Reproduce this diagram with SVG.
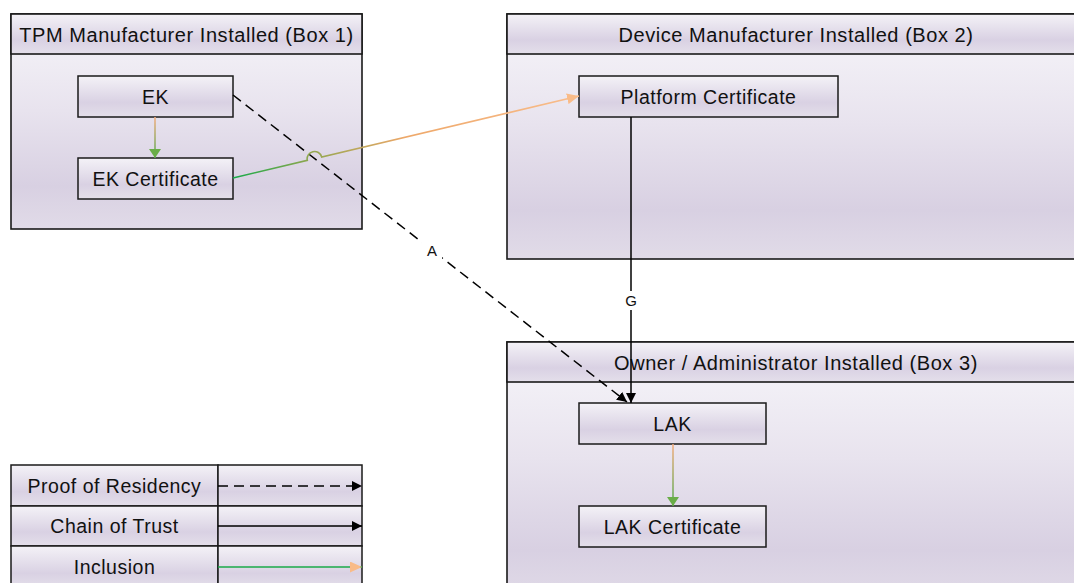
<svg xmlns="http://www.w3.org/2000/svg" width="1074" height="583" viewBox="0 0 1074 583">
  <defs>
    <linearGradient id="fillV" x1="0" y1="0" x2="0" y2="1">
      <stop offset="0" stop-color="#f7f6fa"/>
      <stop offset="0.45" stop-color="#e8e3ee"/>
      <stop offset="0.8" stop-color="#d8d0e2"/>
      <stop offset="1" stop-color="#e1dbe8"/>
    </linearGradient>
    <linearGradient id="nodeV" x1="0" y1="0" x2="0" y2="1">
      <stop offset="0" stop-color="#f4f2f7"/>
      <stop offset="0.65" stop-color="#d9d1e3"/>
      <stop offset="1" stop-color="#e4dfea"/>
    </linearGradient>
    <!-- inclusion connector: green at the source, orange at the target -->
    <linearGradient id="inclMain" gradientUnits="userSpaceOnUse" x1="233" y1="178" x2="579" y2="96">
      <stop offset="0" stop-color="#16aa48"/>
      <stop offset="0.22" stop-color="#8ea74f"/>
      <stop offset="0.5" stop-color="#eea86a"/>
      <stop offset="1" stop-color="#f9bd8c"/>
    </linearGradient>
    <linearGradient id="inclEK" gradientUnits="userSpaceOnUse" x1="0" y1="117" x2="0" y2="158">
      <stop offset="0" stop-color="#f5ab7c"/>
      <stop offset="1" stop-color="#4faa4a"/>
    </linearGradient>
    <linearGradient id="inclLAK" gradientUnits="userSpaceOnUse" x1="0" y1="444" x2="0" y2="506">
      <stop offset="0" stop-color="#f5ab7c"/>
      <stop offset="1" stop-color="#4faa4a"/>
    </linearGradient>
    <marker id="arrowBlack" markerUnits="userSpaceOnUse" markerWidth="10" markerHeight="10" refX="10" refY="5" orient="auto">
      <path d="M0,0 L10,5 L0,10 z" fill="#000"/>
    </marker>
    <marker id="arrowOrange" markerUnits="userSpaceOnUse" markerWidth="12" markerHeight="11" refX="12" refY="5.5" orient="auto">
      <path d="M0,0 L12,5.5 L0,11 z" fill="#f9bb88"/>
    </marker>
    <marker id="arrowGreen" markerUnits="userSpaceOnUse" markerWidth="11" markerHeight="12" refX="9" refY="6" orient="auto">
      <path d="M0,0 L9,6 L0,12 z" fill="#6aad48"/>
    </marker>
    <style>
      .box { fill: url(#fillV); stroke: #1a1a1a; stroke-width: 1.6; }
      .hdr { fill: url(#nodeV); stroke: #1a1a1a; stroke-width: 1.6; }
      .node { fill: url(#nodeV); stroke: #1a1a1a; stroke-width: 1.5; }
      .cell { fill: url(#nodeV); stroke: #1a1a1a; stroke-width: 1.5; }
      text { font-family: "Liberation Sans", Arial, sans-serif; fill: #111; text-anchor: middle; }
      .t20 { font-size: 19.5px; letter-spacing: 0.5px; }
      .th { font-size: 20px; letter-spacing: 0.55px; }
      .lbl { font-size: 15px; }
      .dash { fill: none; stroke: #000; stroke-width: 1.5; stroke-dasharray: 10 6; }
      .solid { fill: none; stroke: #000; stroke-width: 1.5; }
    </style>
  </defs>

  <rect width="1074" height="583" fill="#ffffff"/>

  <!-- Box 1 -->
  <g id="box1">
    <rect class="box" x="11" y="14" width="351" height="215"/>
    <rect class="hdr" x="11" y="14" width="351" height="40"/>
    <text class="th" x="186.5" y="41.5">TPM Manufacturer Installed (Box 1)</text>
  </g>
  <!-- Box 2 -->
  <g id="box2">
    <rect class="box" x="507" y="14" width="578" height="245"/>
    <rect class="hdr" x="507" y="14" width="578" height="40"/>
    <text class="th" x="796" y="41.5">Device Manufacturer Installed (Box 2)</text>
  </g>
  <!-- Box 3 -->
  <g id="box3">
    <rect class="box" x="507" y="342" width="578" height="260"/>
    <rect class="hdr" x="507" y="342" width="578" height="40"/>
    <text class="th" x="796" y="369.5">Owner / Administrator Installed (Box 3)</text>
  </g>

  <g id="ek">
    <rect class="node" x="78" y="76" width="155" height="41"/>
    <text class="t20" x="155.5" y="103.5">EK</text>
  </g>
  <g id="ek-certificate">
    <rect class="node" x="78" y="158" width="155" height="41"/>
    <text class="t20" x="155.5" y="185.5">EK Certificate</text>
  </g>
  <g id="platform-certificate">
    <rect class="node" x="579" y="76" width="259" height="41"/>
    <text class="t20" x="708.5" y="103.5">Platform Certificate</text>
  </g>
  <g id="lak">
    <rect class="node" x="579" y="403" width="187" height="41"/>
    <text class="t20" x="672.5" y="430.5">LAK</text>
  </g>
  <g id="lak-certificate">
    <rect class="node" x="579" y="506" width="187" height="41"/>
    <text class="t20" x="672.5" y="533.5">LAK Certificate</text>
  </g>

  <!-- Legend -->
  <g id="legend">
    <rect class="cell" x="11" y="465" width="207" height="41"/>
    <rect class="cell" x="218" y="465" width="144" height="41"/>
    <rect class="cell" x="11" y="506" width="207" height="40"/>
    <rect class="cell" x="218" y="506" width="144" height="40"/>
    <rect class="cell" x="11" y="546" width="207" height="42"/>
    <rect class="cell" x="218" y="546" width="144" height="42"/>
    <text class="t20" x="114.5" y="492.5">Proof of Residency</text>
    <text class="t20" x="114.5" y="533">Chain of Trust</text>
    <text class="t20" x="114.5" y="573.5">Inclusion</text>
    <path class="dash" d="M218,486 H362" marker-end="url(#arrowBlack)"/>
    <path class="solid" d="M218,526 H362" marker-end="url(#arrowBlack)"/>
    <path d="M218,567 H362" fill="none" stroke="#1aaa48" stroke-width="1.6" marker-end="url(#arrowOrange)"/>
  </g>

  <!-- Connectors -->
  <g id="connectors">
    <!-- EK to EK Certificate -->
    <path d="M155,117 V158" fill="none" stroke="url(#inclEK)" stroke-width="1.5" marker-end="url(#arrowGreen)"/>
    <!-- LAK to LAK Certificate -->
    <path d="M673,444 V506" fill="none" stroke="url(#inclLAK)" stroke-width="1.5" marker-end="url(#arrowGreen)"/>
    <!-- A: proof of residency, EK to LAK -->
    <path class="dash" d="M233,95 L627,402" marker-end="url(#arrowBlack)"/>
    <!-- EK Certificate to Platform Certificate, hopping over A -->
    <path d="M233,178 L307.3,160.4 A7.4,7.4 0 0 1 321.7,157 L579,96" fill="none" stroke="url(#inclMain)" stroke-width="1.6" marker-end="url(#arrowOrange)"/>
    <!-- G: chain of trust, Platform Certificate to LAK -->
    <path class="solid" d="M631,117 V403" marker-end="url(#arrowBlack)"/>
    <rect x="422" y="240" width="20" height="19" fill="#ffffff"/>
    <text class="lbl" x="432" y="255.5">A</text>
    <rect x="622" y="291" width="18" height="19" fill="#ffffff"/>
    <text class="lbl" x="631" y="306">G</text>
  </g>
</svg>
